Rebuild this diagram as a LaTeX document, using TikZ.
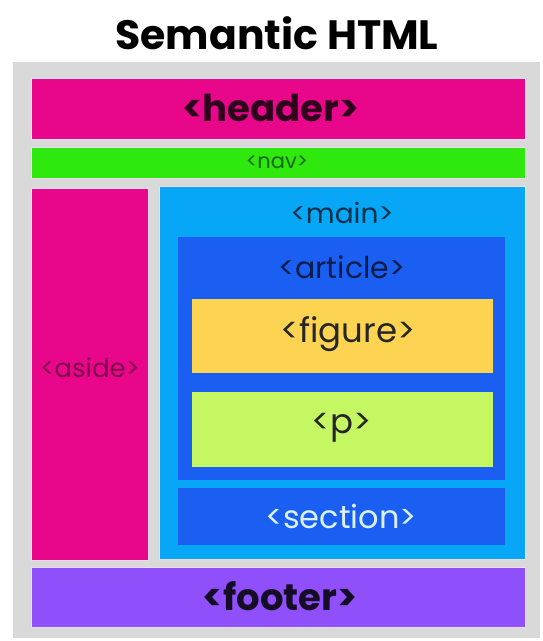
\documentclass[tikz,border=0pt]{standalone}
\usepackage{fontspec}
\setmainfont{Poppins}
\definecolor{bggray}{HTML}{D9D9D9}
\definecolor{hmag}{HTML}{E8078A}
\definecolor{hgreen}{HTML}{2EE80E}
\definecolor{hlblue}{HTML}{07A6F6}
\definecolor{hblue}{HTML}{1A5FF2}
\definecolor{hyellow}{HTML}{FDD352}
\definecolor{hlime}{HTML}{C5F763}
\definecolor{hpurple}{HTML}{8F4FFA}
\definecolor{gapc}{HTML}{EEDCEE}
\tikzset{
  boxc/.style={draw=gapc, line width=0.8pt},
  lbl/.style={inner sep=0pt, anchor=center},
  boldlbl/.style={lbl, font=\fontsize{37}{37}\selectfont\bfseries},
}
\begin{document}
\begin{tikzpicture}[x=1pt,y=-1pt]
\useasboundingbox (0,0) rectangle (542,641);
\fill[white] (0,0) rectangle (542,641);
% title
\node[lbl, font=\fontsize{41}{41}\selectfont\bfseries] (title) at (277,33) {Semantic HTML};
% background
\fill[bggray] (13,62) rectangle (540,638);
% header
\fill[hmag, boxc] (31,78) rectangle (525,139);
\node[boldlbl, text=black!80!hmag] (header) at (271,108) {<header>};
% nav
\fill[hgreen, boxc] (31,147) rectangle (525,178);
\node[lbl, font=\fontsize{21}{21}\selectfont, text=black!55!hgreen] (nav) at (277,162) {<nav>};
% aside
\fill[hmag, boxc] (31,188) rectangle (148,560);
\node[lbl, font=\fontsize{26}{26}\selectfont, text=black!45!hmag] (aside) at (90,368) {<aside>};
% main
\fill[hlblue, boxc] (159,186) rectangle (525,559);
\node[lbl, font=\fontsize{28}{28}\selectfont, text=black!70!hlblue] (main) at (342,213) {<main>};
% article
\fill[hblue] (178,237) rectangle (505,480);
\node[lbl, font=\fontsize{30}{30}\selectfont, text=black!70!hblue] (article) at (342,267) {<article>};
% figure
\fill[hyellow] (192,299) rectangle (493,373);
\node[lbl, font=\fontsize{34}{34}\selectfont, text=black!85] (figure) at (348,334) {<figure>};
% p
\fill[hlime] (192,392) rectangle (493,467);
\node[lbl, font=\fontsize{34}{34}\selectfont, text=black!85] (p) at (342,428) {<p>};
% section
\fill[hblue] (178,488) rectangle (505,545);
\node[lbl, font=\fontsize{32}{32}\selectfont, text=white!85!hlblue] (section) at (341,516) {<section>};
% footer
\fill[hpurple, boxc] (31,567) rectangle (525,627);
\node[boldlbl, text=black!85!hpurple] (footer) at (280,596) {<footer>};
\end{tikzpicture}
\end{document}
